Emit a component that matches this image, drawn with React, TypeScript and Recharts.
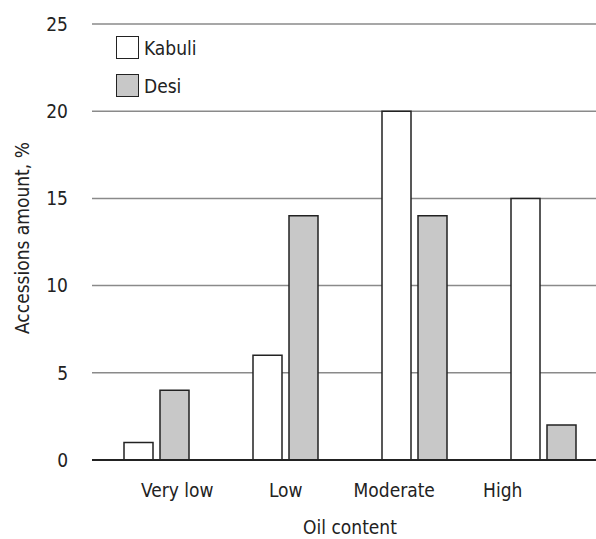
import React from "react";
import { BarChart, Bar, XAxis, YAxis, CartesianGrid, Legend, ReferenceLine } from "recharts";

const categories = ["Very low", "Low", "Moderate", "High"];
const kabuli = [1, 6, 20, 15];
const desi = [4, 14, 14, 2];
const yTicks = [0, 5, 10, 15, 20, 25];
const seriesNames = ["Kabuli", "Desi"];
const xTitle = "Oil content";
const yTitle = "Accessions amount, %";

const data = categories.map((c, i) => ({ cat: c, kabuli: kabuli[i], desi: desi[i] }));

const FONT = "'Liberation Sans Narrow', 'DejaVu Sans Condensed', 'Roboto Condensed', Arial, sans-serif";
const fills = ["#ffffff", "#c8c8c8"];

const LegendContent = () => (
  <div style={{ fontFamily: FONT, fontSize: 19, color: "#222" }}>
    {seriesNames.map((n, i) => (
      <div key={n} style={{ display: "flex", alignItems: "center", height: 23, marginBottom: 15 }}>
        <div style={{ width: 21, height: 21, border: "1.5px solid #222", background: fills[i], marginRight: 5 }} />
        <span>{n}</span>
      </div>
    ))}
  </div>
);

const XTitle = (props: any) => {
  const vb = props.viewBox || { x: 92, y: 460, width: 516, height: 79 };
  return (
    <text x={vb.x + vb.width / 2} y={vb.y + vb.height - 5} textAnchor="middle" fontFamily={FONT} fontSize={19} fill="#222">
      {xTitle}
    </text>
  );
};

export default function App() {
  return (
    <div style={{ position: "absolute", left: 0, top: 0, width: 596, height: 539, overflow: "hidden", background: "#fff" }}>
      <BarChart
        width={620}
        height={539}
        data={data}
        margin={{ top: 24, right: 12, bottom: 0, left: 0 }}
        barSize={29}
        barGap={7}
      >
        <CartesianGrid horizontal vertical={false} stroke="#8a8a8a" strokeWidth={1.5} />
        <XAxis xAxisId="bars" dataKey="cat" hide height={0} />
        <XAxis
          xAxisId="labels"
          dataKey="cat"
          axisLine={false}
          tickLine={false}
          tickSize={0}
          tickMargin={24}
          height={79}
          padding={{ left: 31, right: 51 }}
          tick={{ fontFamily: FONT, fontSize: 19, fill: "#222" }}
          label={<XTitle />}
        />
        <YAxis
          domain={[0, 25]}
          ticks={yTicks}
          width={92}
          axisLine={false}
          tickLine={false}
          tickSize={0}
          tickMargin={24}
          tick={{ fontFamily: FONT, fontSize: 19, fill: "#222" }}
          label={{ value: yTitle, angle: -90, position: "insideLeft", offset: 22, dy: 92, fontFamily: FONT, fontSize: 19, fill: "#222" }}
        />
        <Legend
          layout="horizontal"
          verticalAlign="middle"
          align="center"
          content={<LegendContent />}
          wrapperStyle={{ position: "absolute", top: 36, left: 116, width: "auto", height: "auto" }}
        />
        <ReferenceLine xAxisId="bars" y={0} stroke="#222" strokeWidth={2} />
        <Bar xAxisId="bars" dataKey="kabuli" name="Kabuli" fill={fills[0]} stroke="#222" strokeWidth={1.5} isAnimationActive={false} />
        <Bar xAxisId="bars" dataKey="desi" name="Desi" fill={fills[1]} stroke="#222" strokeWidth={1.5} isAnimationActive={false} />
      </BarChart>
    </div>
  );
}
